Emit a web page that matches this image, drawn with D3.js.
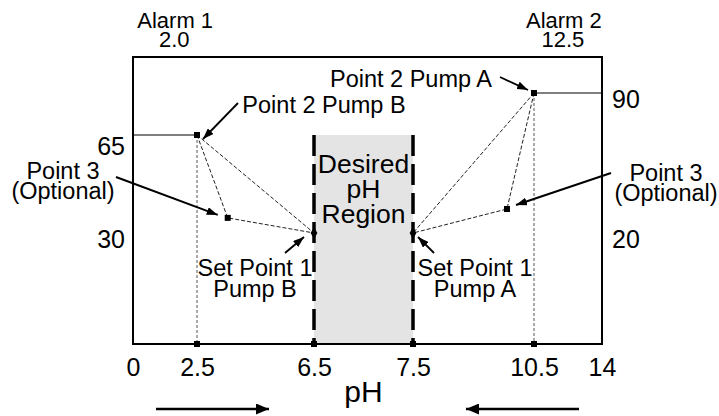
<!DOCTYPE html>
<html>
<head>
<meta charset="utf-8">
<script src="https://cdn.jsdelivr.net/npm/d3@7"></script>
<style>
  body { margin: 0; background: #fff; }
  svg text { font-family: "Liberation Sans", Arial, Helvetica, sans-serif; fill: #000; }
</style>
</head>
<body>
<svg class="chart" width="719" height="416"></svg>
<script>
// ---- data ----
const xTicks = [0, 2.5, 6.5, 7.5, 10.5, 14];
const leftTicks = [30, 65];
const rightTicks = [20, 90];
const desiredRange = [6.5, 7.5];
const alarmLabels = ['Alarm 1', 'Alarm 2'];
const alarmValues = [2.0, 12.5];
// pump B curve: point 2, point 3 (optional), set point 1  (left scale)
const pumpB = [[2.5, 65], [3.55, 35.4], [6.5, 30]];
// pump A curve: point 2, point 3 (optional), set point 1  (right scale)
const pumpA = [[10.5, 90], [9.83, 32], [7.5, 20]];

const svg = d3.select('.chart');
const fLeft = 133, fRight = 602, fTop = 57, fBottom = 344;

// schematic (piecewise) scales, as drawn in the original
const x = d3.scaleLinear().domain(xTicks).range([133, 197, 314, 413, 534, 602]);
const yL = d3.scaleLinear().domain(leftTicks).range([233, 135]);
const yR = d3.scaleLinear().domain(rightTicks).range([233, 93]);

const defs = svg.append('defs');
function arrowMarker(id, len, wid) {
  defs.append('marker')
    .attr('id', id)
    .attr('markerUnits', 'userSpaceOnUse')
    .attr('viewBox', `0 0 ${len} ${wid}`)
    .attr('refX', len).attr('refY', wid / 2)
    .attr('markerWidth', len).attr('markerHeight', wid)
    .attr('orient', 'auto')
    .append('path')
      .attr('d', `M0,0L${len},${wid / 2}L0,${wid}Z`)
      .attr('fill', '#000');
}
arrowMarker('head', 11, 8);
arrowMarker('bighead', 13, 11);

// desired region
svg.append('rect')
  .attr('x', x(desiredRange[0]))
  .attr('y', yL(65))
  .attr('width', x(desiredRange[1]) - x(desiredRange[0]))
  .attr('height', fBottom - yL(65))
  .attr('fill', '#e4e4e4');

svg.selectAll('.bound')
  .data(desiredRange)
  .enter().append('line')
    .attr('x1', d => x(d)).attr('x2', d => x(d))
    .attr('y1', yL(65)).attr('y2', fBottom)
    .attr('stroke', '#000')
    .attr('stroke-width', 3.5)
    .attr('stroke-dasharray', '21,8');

// frame
svg.append('rect')
  .attr('x', fLeft).attr('y', fTop)
  .attr('width', fRight - fLeft).attr('height', fBottom - fTop)
  .attr('fill', 'none')
  .attr('stroke', '#000')
  .attr('stroke-width', 2);

// axes
const xAxis = svg.append('g')
  .attr('transform', `translate(0,${fBottom})`)
  .call(d3.axisBottom(x).tickValues(xTicks).tickSize(0).tickPadding(14)
    .tickFormat(d3.format('')));
xAxis.select('.domain').remove();
xAxis.attr('font-family', null);
xAxis.selectAll('text').attr('font-size', 25);

const lAxis = svg.append('g')
  .attr('transform', `translate(${fLeft},0)`)
  .call(d3.axisLeft(yL).tickValues(leftTicks).tickSize(0).tickPadding(8));
lAxis.select('.domain').remove();
lAxis.attr('font-family', null);
lAxis.selectAll('text').attr('font-size', 25)
  .attr('dy', d => d === d3.max(leftTicks) ? '0.76em' : '0.56em');

const rAxis = svg.append('g')
  .attr('transform', `translate(${fRight},0)`)
  .call(d3.axisRight(yR).tickValues(rightTicks).tickSize(0).tickPadding(10));
rAxis.select('.domain').remove();
rAxis.attr('font-family', null);
rAxis.selectAll('text').attr('font-size', 25).attr('dy', '0.56em');

svg.append('text')
  .attr('x', (x(desiredRange[0]) + x(desiredRange[1])) / 2)
  .attr('y', 402)
  .attr('text-anchor', 'middle')
  .attr('font-size', 30)
  .text('pH');

// alarm labels
alarmLabels.forEach((lab, i) => {
  const t = svg.append('text')
    .attr('text-anchor', 'middle')
    .attr('font-size', 22);
  t.append('tspan').attr('x', x(alarmValues[i]) - 9).attr('y', 28).text(lab);
  t.append('tspan').attr('x', x(alarmValues[i]) - 10).attr('y', 47).text(d3.format('.1f')(alarmValues[i]));
});

// curves
function drawPump(pts, y, edgeX) {
  const p2 = pts[0], sp = pts[pts.length - 1];
  // solid line from frame to point 2
  svg.append('line')
    .attr('x1', x(edgeX)).attr('x2', x(p2[0]))
    .attr('y1', y(p2[1])).attr('y2', y(p2[1]))
    .attr('stroke', '#000').attr('stroke-width', 1);
  // vertical drop from point 2
  svg.append('line')
    .attr('x1', x(p2[0])).attr('x2', x(p2[0]))
    .attr('y1', y(p2[1])).attr('y2', fBottom)
    .attr('stroke', '#555').attr('stroke-width', 1)
    .attr('stroke-dasharray', '3,2');
  const line = d3.line().x(d => x(d[0])).y(d => y(d[1]));
  svg.append('path')
    .attr('d', line(pts))
    .attr('fill', 'none').attr('stroke', '#222')
    .attr('stroke-width', 1).attr('stroke-dasharray', '4,2');
  svg.append('path')
    .attr('d', line([p2, sp]))
    .attr('fill', 'none').attr('stroke', '#222')
    .attr('stroke-width', 1).attr('stroke-dasharray', '4,2');
  // square markers for point 2 and point 3
  svg.selectAll(null)
    .data(pts.slice(0, 2))
    .enter().append('rect')
      .attr('x', d => x(d[0]) - 3).attr('y', d => y(d[1]) - 3)
      .attr('width', 6).attr('height', 6)
      .attr('fill', '#000');
  // set point marker
  svg.append('path')
    .attr('d', d3.symbol(d3.symbolDiamond, 40)())
    .attr('transform', `translate(${x(sp[0])},${y(sp[1])})`)
    .attr('fill', '#000');
}
drawPump(pumpB, yL, 0);
drawPump(pumpA, yR, 14);

// square marks on the x axis
svg.selectAll('.axmark')
  .data([pumpB[0][0], desiredRange[0], desiredRange[1], pumpA[0][0]])
  .enter().append('rect')
    .attr('x', d => x(d) - 3).attr('y', fBottom - 3)
    .attr('width', 6).attr('height', 6)
    .attr('fill', '#000');

// annotations
function multiText(lines, cx, y0, step, size) {
  const t = svg.append('text').attr('text-anchor', 'middle').attr('font-size', size || 23.5);
  lines.forEach((l, i) => t.append('tspan').attr('x', cx).attr('y', y0 + i * step).text(l));
}
multiText(['Desired', 'pH', 'Region'], (x(desiredRange[0]) + x(desiredRange[1])) / 2, 173, 25, 26.5);
multiText(['Point 2 Pump B'], 324, 113, 0);
multiText(['Point 2 Pump A'], 411, 87, 0);
multiText(['Point 3', '(Optional)'], 63, 179, 20);
multiText(['Point 3', '(Optional)'], 666, 181, 20);
multiText(['Set Point 1', 'Pump B'], 255, 276, 21);
multiText(['Set Point 1', 'Pump A'], 475, 276, 21);

function arrow(x1, y1, x2, y2, w, head) {
  svg.append('line')
    .attr('x1', x1).attr('y1', y1).attr('x2', x2).attr('y2', y2)
    .attr('stroke', '#000').attr('stroke-width', w)
    .attr('marker-end', `url(#${head})`);
}
arrow(238, 103, x(pumpB[0][0]) + 6, yL(pumpB[0][1]) + 4, 1.8, 'head');
arrow(500, 77, x(pumpA[0][0]) - 6, yR(pumpA[0][1]) - 3, 1.8, 'head');
arrow(116, 177, x(pumpB[1][0]) - 10, yL(pumpB[1][1]) - 3, 2, 'head');
arrow(611, 173, x(pumpA[1][0]) + 9, yR(pumpA[1][1]) - 4, 2, 'head');
arrow(285, 253, x(pumpB[2][0]) - 10, yL(pumpB[2][1]) + 4, 1.8, 'head');
arrow(434, 253, x(pumpA[2][0]) + 5, yR(pumpA[2][1]) + 4, 1.8, 'head');

// direction arrows under the axis
arrow(156, 409, 269, 409, 2.5, 'bighead');
arrow(579, 409, 466, 409, 2.5, 'bighead');
</script>
</body>
</html>
